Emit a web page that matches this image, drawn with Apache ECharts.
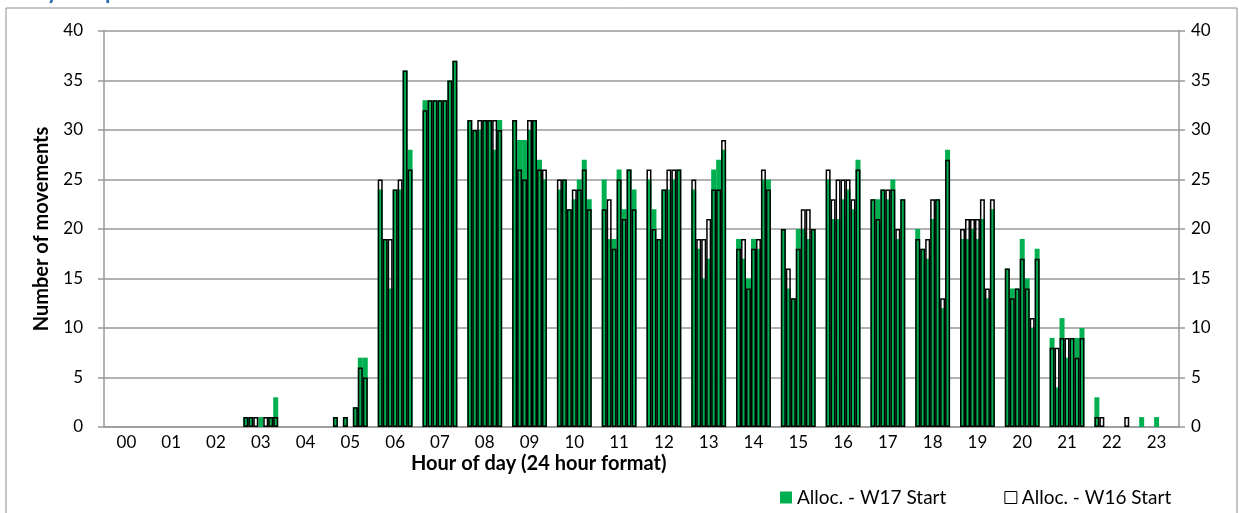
<!DOCTYPE html>
<html>
<head>
<meta charset="utf-8">
<script src="https://cdn.jsdelivr.net/npm/echarts@6/dist/echarts.min.js"></script>
<style>
html,body{margin:0;padding:0;background:#fff}
#chart{width:1239px;height:513px}
</style>
</head>
<body>
<div id="chart"></div>
<script>
// hour labels on the x axis
var hours = ['00','01','02','03','04','05','06','07','08','09','10','11',
             '12','13','14','15','16','17','18','19','20','21','22','23'];

// movements per slot, 7 slots in each hour
var w17Start = [
    [0,0,0,0,0,0,0],        // 00
    [0,0,0,0,0,0,0],        // 01
    [0,0,0,0,0,0,0],        // 02
    [1,1,0,1,0,1,3],        // 03
    [0,0,0,0,0,0,0],        // 04
    [1,0,1,0,2,7,7],        // 05
    [24,19,14,24,24,36,28], // 06
    [33,33,33,33,33,35,37], // 07
    [31,30,30,31,31,28,31], // 08
    [31,29,29,30,31,27,25], // 09
    [24,25,22,23,25,27,23], // 10
    [25,19,19,26,22,26,24], // 11
    [25,22,19,24,24,25,26], // 12
    [24,18,15,17,26,27,28], // 13
    [19,17,15,19,18,25,25], // 14
    [20,14,13,20,20,19,20], // 15
    [25,21,21,23,24,22,27], // 16
    [23,23,24,23,25,19,23], // 17
    [20,18,17,21,23,12,28], // 18
    [19,19,20,19,21,13,22], // 19
    [16,14,14,19,15,10,18], // 20
    [9,4,11,7,9,9,10],      // 21
    [3,0,0,0,0,0,0],        // 22
    [1,0,0,1,0,0,0]         // 23
];
var w16Start = [
    [0,0,0,0,0,0,0],
    [0,0,0,0,0,0,0],
    [0,0,0,0,0,0,0],
    [1,1,1,0,1,1,1],
    [0,0,0,0,0,0,0],
    [1,0,1,0,2,6,5],
    [25,19,19,24,25,36,26],
    [32,33,33,33,33,35,37],
    [31,30,31,31,31,31,30],
    [31,26,25,31,31,26,26],
    [25,25,22,24,24,26,22],
    [22,23,18,25,21,26,22],
    [26,20,19,24,26,26,26],
    [25,19,19,21,24,24,29],
    [18,19,14,18,19,26,24],
    [20,16,13,18,22,22,20],
    [26,23,25,25,25,23,26],
    [23,21,24,24,24,20,23],
    [19,18,19,23,23,13,27],
    [20,21,21,21,23,14,23],
    [16,13,14,17,14,11,17],
    [8,8,9,9,9,7,9],
    [1,1,0,0,0,0,1],
    [0,0,0,0,0,0,0]
];

// each hour = 9 category slots, first and last stay empty
var SLOTS = 9;
var cats = [], d17 = [], d16 = [];
for (var h = 0; h < hours.length; h++) {
    for (var s = 0; s < SLOTS; s++) {
        cats.push(hours[h] + '_' + s);
        var v17 = (s >= 1 && s <= 7) ? w17Start[h][s-1] : 0;
        var v16 = (s >= 1 && s <= 7) ? w16Start[h][s-1] : 0;
        d17.push(v17 ? v17 : '-');
        d16.push(v16 ? v16 : '-');
    }
}

var FONT = 'Lato';
var myChart = echarts.init(document.getElementById('chart'));
var option = {
    backgroundColor: '#fff',
    animation: false,
    textStyle: {fontFamily: FONT},
    grid: {left: 104, right: 60, top: 31, bottom: 86},
    legend: {
        left: 775, top: 483,
        itemWidth: 12, itemHeight: 12, itemGap: 58, itemTextGap: 5,
        textStyle: {fontFamily: FONT, fontSize: 19, color: '#000'},
        data: [
            {name: 'Alloc. - W17 Start', icon: 'rect', itemStyle: {color: '#00B050'}},
            {name: 'Alloc. - W16 Start', icon: 'rect',
             itemStyle: {color: '#fff', borderColor: '#000', borderWidth: 1}}
        ]
    },
    graphic: [
        // outer chart frame
        {type: 'rect', shape: {x: 6, y: 8, width: 1231, height: 520},
         style: {fill: 'none', stroke: '#8c8c8c', lineWidth: 1}, silent: true},
        // title, mostly cut off at the top
        {type: 'text', left: 8, top: -19,
         style: {text: 'Daily comparison', font: 'bold 22px ' + FONT, fill: '#2E6DB4'}},
        {type: 'text', left: 411, top: 454,
         style: {text: 'Hour of day (24 hour format)', font: 'bold 20px ' + FONT, fill: '#000'}}
    ],
    xAxis: {
        type: 'category',
        data: cats,
        boundaryGap: true,
        axisLine: {lineStyle: {color: '#999', width: 1.5}},
        axisTick: {
            length: 6,
            interval: function (i) { return i % SLOTS === 0; },
            lineStyle: {color: '#999', width: 1.5}
        },
        axisLabel: {
            interval: function (i) { return i % SLOTS === 4; },
            formatter: function (v) { return v.split('_')[0]; },
            margin: 7, fontSize: 17, color: '#000', fontFamily: FONT
        }
    },
    yAxis: [
        {
            type: 'value', min: 0, max: 40, interval: 5,
            name: 'Number of movements', nameLocation: 'middle', nameGap: 52, nameRotate: 90,
            nameTextStyle: {fontWeight: 'bold', fontSize: 20, color: '#000', fontFamily: FONT},
            axisLine: {show: true, lineStyle: {color: '#999', width: 1.5}},
            axisTick: {show: true, length: 6, lineStyle: {color: '#999', width: 1.5}},
            axisLabel: {margin: 21, fontSize: 17, color: '#000', fontFamily: FONT},
            splitLine: {lineStyle: {color: '#999', width: 1.5}}
        },
        {
            type: 'value', min: 0, max: 40, interval: 5, position: 'right',
            axisLine: {show: true, lineStyle: {color: '#999', width: 1.5}},
            axisTick: {show: true, length: 6, lineStyle: {color: '#999', width: 1.5}},
            axisLabel: {margin: 12, fontSize: 17, color: '#000', fontFamily: FONT},
            splitLine: {show: false}
        }
    ],
    series: [
        {
            name: 'Alloc. - W17 Start', type: 'bar', data: d17,
            barCategoryGap: '0%', barGap: '-100%',
            itemStyle: {color: '#00B050'}
        },
        {
            name: 'Alloc. - W16 Start', type: 'bar', data: d16,
            barCategoryGap: '0%', barGap: '-100%',
            itemStyle: {color: 'rgba(255,255,255,0)', borderColor: '#000', borderWidth: 1.5}
        }
    ]
};
myChart.setOption(option);
</script>
</body>
</html>
